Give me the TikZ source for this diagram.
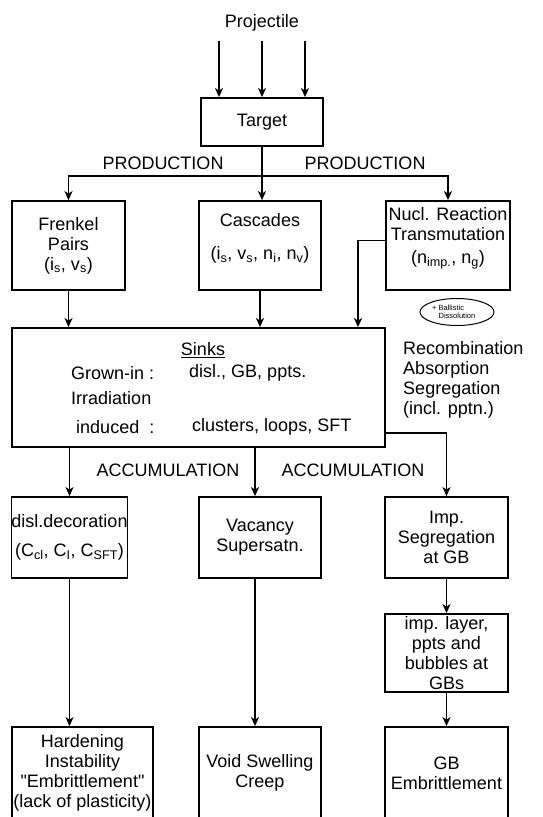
\documentclass[tikz,border=0pt]{standalone}
\usepackage{fontspec}
\setmainfont{Liberation Sans}
\usetikzlibrary{arrows.meta,shapes.geometric,calc}
\tikzset{>={Stealth[length=9pt,width=8pt,inset=2.5pt]}}
\tikzset{txt/.style={font=\fontsize{18}{20}\selectfont,align=center},
  box/.style={draw,inner sep=0pt,align=center}}

\begin{document}
\begin{tikzpicture}[x=1pt,y=-1pt,line width=1.8pt,every node/.style={txt}]
\useasboundingbox (0,0) rectangle (542,817);
\clip (0,0) rectangle (542,817);
% source and target
\node (proj) at (262,23) {Projectile};
\node[box,minimum width=122,minimum height=48] (target) at (262,122) {Target};
\coordinate (p1) at (219,41);
\coordinate (p2) at (262,41);
\coordinate (p3) at (305,41);
\draw[->] (p1) -- (p1 |- target.north);
\draw[->] (p2) -- (p2 |- target.north);
\draw[->] (p3) -- (p3 |- target.north);
% production
\node[box,minimum width=113,minimum height=89] (frenkel) at (68.5,245.5)
  {Frenkel\\Pairs\\(i\textsubscript{s}, v\textsubscript{s})};
\node[box,minimum width=122,minimum height=89] (casc) at (260,245.5) {};
\node (cascT) at ([yshift=7pt]casc.center)
  {Cascades\\[13pt](i\textsubscript{s}, v\textsubscript{s}, n\textsubscript{i}, n\textsubscript{v})};
\node[box,minimum width=124,minimum height=89] (nucl) at (448,245.5) {};
\node (nuclT) at ([yshift=7pt]nucl.center)
  {Nucl. Reaction\\Transmutation\\[3pt](n\textsubscript{imp.}, n\textsubscript{g})};
\draw (target.south) -- (262,176) coordinate (split);
\draw[->] (split) -| (frenkel.north);
\draw[->] (split) -| (nucl.north);
\draw[->] (split) -- (split |- casc.north);
\node (prodL) at (163,163) {PRODUCTION};
\node (prodR) at (365,163) {PRODUCTION};
% sinks
\node[box,minimum width=373,minimum height=119] (sinks) at (198.5,387.5) {};
\node (sinksT) at (203,350) {\underline{Sinks}};
\node[anchor=west] (grown) at (67,373) {Grown-in :};
\node[anchor=west] (grownV) at (185,373) {disl., GB, ppts.};
\node[anchor=west] (irr) at (67,398) {Irradiation};
\node[anchor=west] (ind) at (72,427) {induced\ \ :};
\node[anchor=west] (indV) at (188,427) {clusters, loops, SFT};
\draw[->] (frenkel.south) -- (frenkel.south |- sinks.north);
\draw[->] (casc.south) -- (casc.south |- sinks.north);
\coordinate (n2s) at (358,0);
\draw[->] ([yshift=5pt]nucl.west) -| (n2s |- sinks.north);
\node[ellipse,draw,line width=1pt,minimum width=74,minimum height=27,inner sep=0pt,
  font=\fontsize{7.5}{8.5}\selectfont,align=left] (ball) at (457,312)
  {\llap{+ }Ballistic\\Dissolution};
\node[anchor=west,align=left] (proc) at (399,380)
  {Recombination\\Absorption\\Segregation\\(incl. pptn.)};
% accumulation
\node[box,minimum width=115,minimum height=81] (disl) at (69.5,537.5)
  {disl.decoration\\[9pt](C\textsubscript{cl}, C\textsubscript{I}, C\textsubscript{SFT})};
\node[box,minimum width=122,minimum height=81] (vac) at (260,537.5)
  {Vacancy\\Supersatn.};
\node[box,minimum width=123,minimum height=81] (imp) at (446.5,537.5)
  {Imp.\\Segregation\\at GB};
\draw[->] (disl.north |- sinks.south) -- (disl.north);
\draw[->] ([xshift=-5pt]vac.north |- sinks.south) -- ([xshift=-5pt]vac.north);
\draw[->] ([yshift=15pt]sinks.south east) -| (imp.north);
\node (accL) at (168,470) {ACCUMULATION};
\node (accR) at (353,470) {ACCUMULATION};
% consequences
\node[box,minimum width=123,minimum height=78] (layer) at (446.5,653)
  {imp. layer,\\ppts and\\bubbles at\\GBs};
\node[box,minimum width=141,minimum height=92] (hard) at (82.5,773)
  {Hardening\\Instability\\\textquotedbl Embrittlement\textquotedbl\\(lack of plasticity)};
\node[box,minimum width=122,minimum height=92] (void) at (260,773)
  {Void Swelling\\Creep};
\node[box,minimum width=123,minimum height=92] (gb) at (446.5,773)
  {GB\\Embrittlement};
\draw[->] (disl.south) -- (disl.south |- hard.north);
\draw[->] ([xshift=-5pt]vac.south) -- ([xshift=-5pt]vac.south |- void.north);
\draw[->] (imp.south) -- (layer.north);
\draw[->] (layer.south) -- (gb.north);
\end{tikzpicture}
\end{document}
